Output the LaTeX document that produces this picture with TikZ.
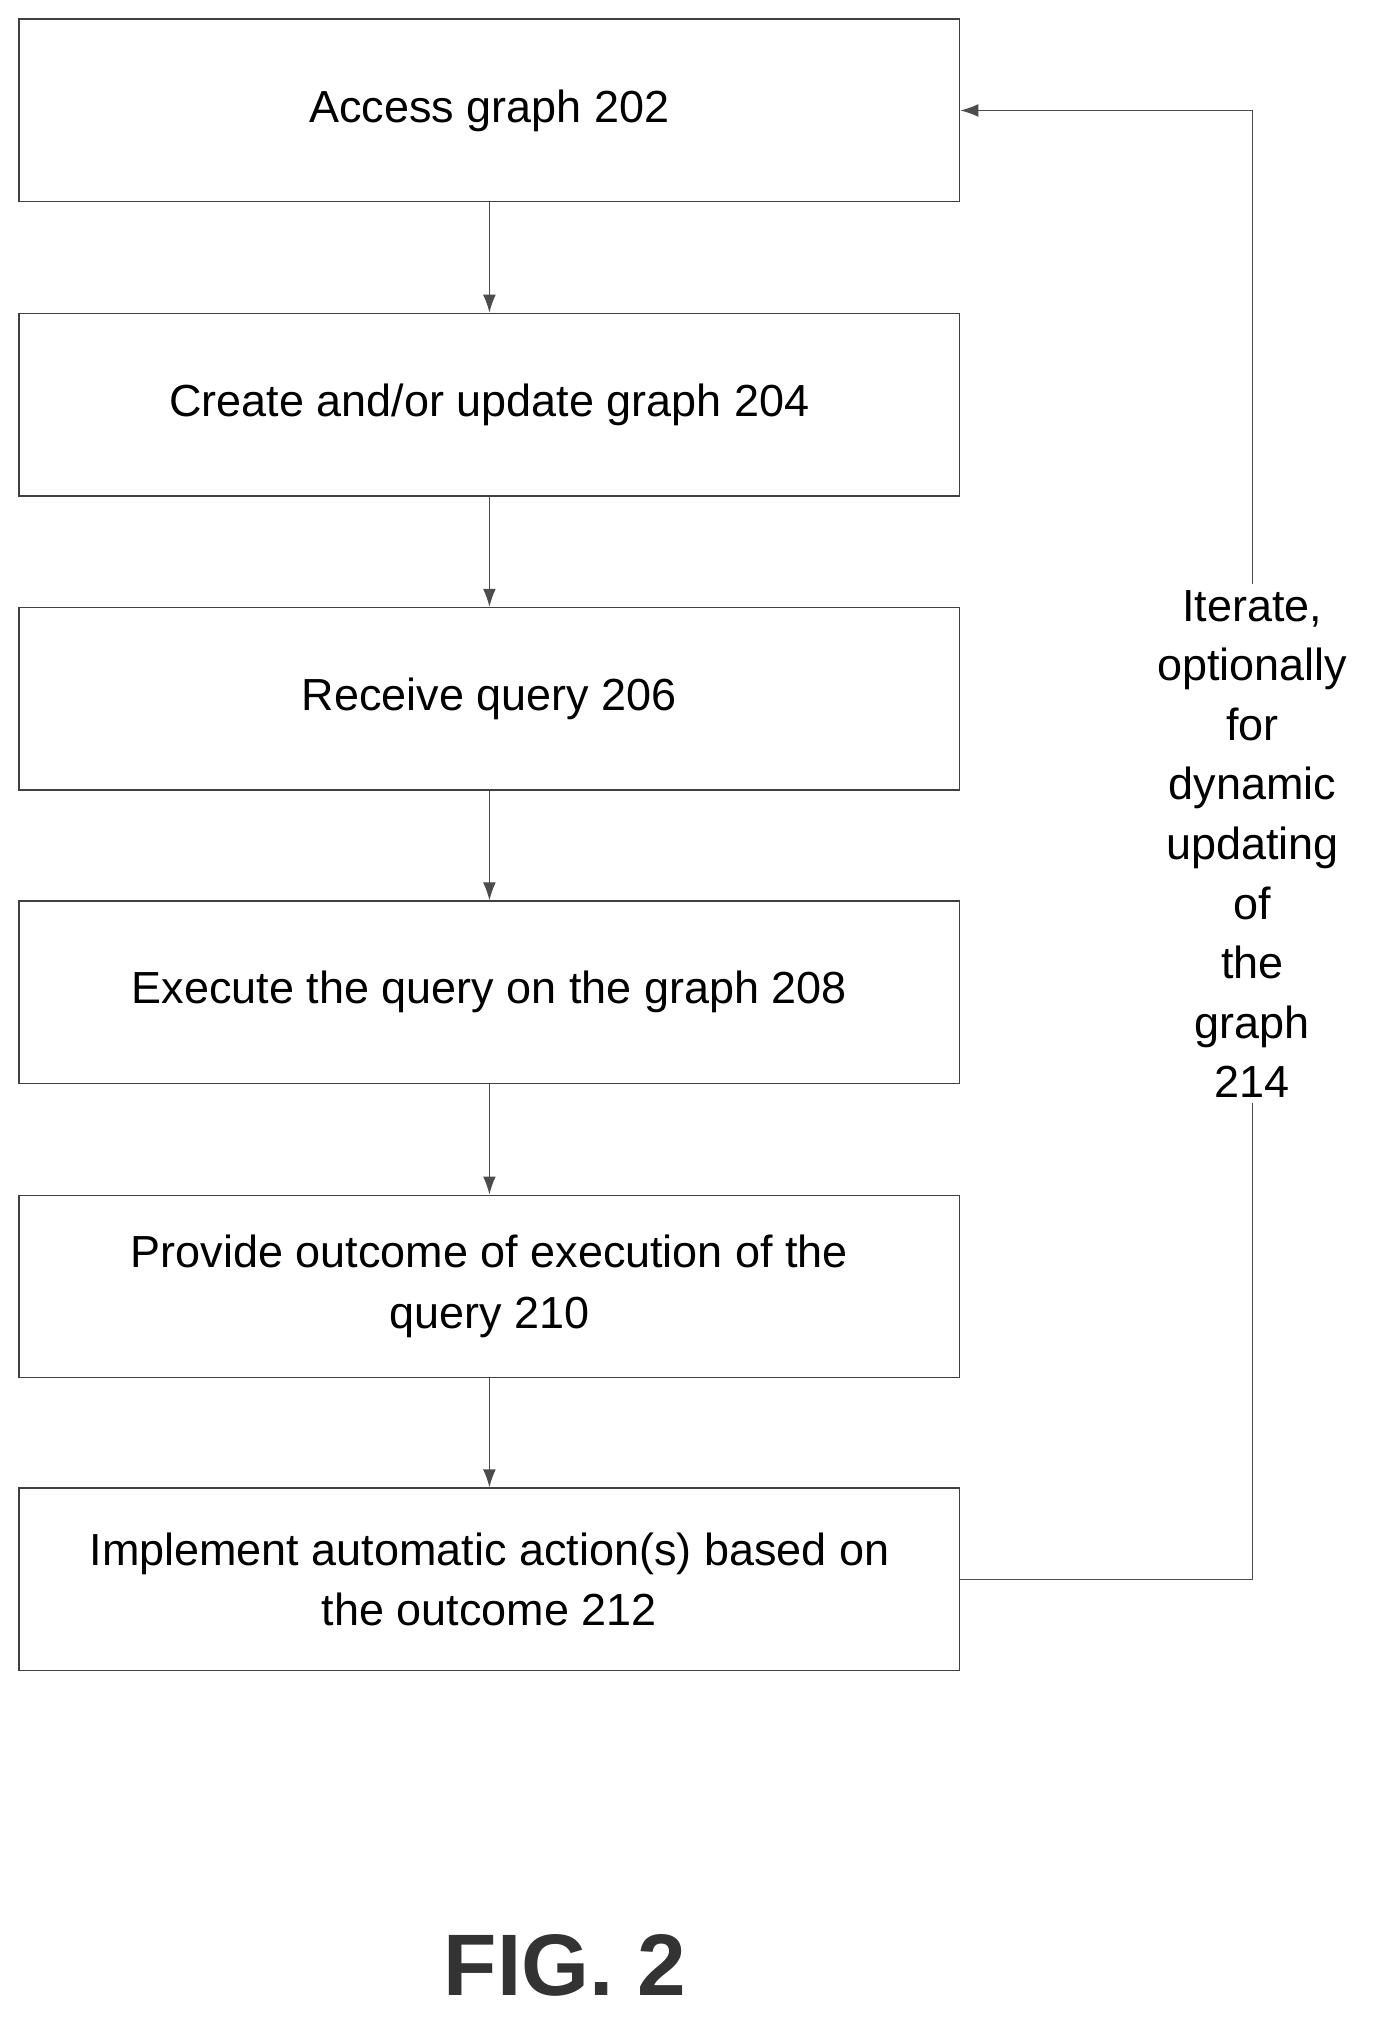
\documentclass[tikz,border=0pt]{standalone}
\usepackage{fontspec}
\setmainfont{Liberation Sans}
\usetikzlibrary{arrows.meta}
\begin{document}
\begin{tikzpicture}[x=0.5pt,y=0.5pt,
  box/.style={draw=black!75,line width=0.6pt,minimum width=366pt,minimum height=71pt,align=center,font=\fontsize{17.5}{23.5}\selectfont,inner sep=0pt},
  arr/.style={draw=black!70,line width=0.5pt,-{Latex[length=7pt,width=5pt]}}]
\useasboundingbox (0,0) rectangle (1080,-1578);
\node[box] (b1) at (381,-86) {Access graph 202};
\node[box] (b2) at (381,-315) {Create and/or update graph 204};
\node[box] (b3) at (381,-544) {Receive query 206};
\node[box] (b4) at (381,-772.5) {Execute the query on the graph 208};
\node[box] (b5) at (381,-1001.5) {Provide outcome of execution of the\\query 210};
\node[box] (b6) at (381,-1229.5) {Implement automatic action(s) based on\\the outcome 212};
\draw[arr] (b1) -- (b2);
\draw[arr] (b2) -- (b3);
\draw[arr] (b3) -- (b4);
\draw[arr] (b4) -- (b5);
\draw[arr] (b5) -- (b6);
\coordinate (c1) at (975,-1229.5);
\coordinate (c2) at (975,-86);
\node[align=center,fill=white,font=\fontsize{17.5}{23.2}\selectfont,inner sep=2pt] (lab) at (975,-657) {Iterate,\\optionally\\for\\dynamic\\updating\\of\\the\\graph\\214};
\draw[draw=black!70,line width=0.5pt] (b6.east) -- (c1) -- (lab.south);
\draw[arr] (lab.north) -- (c2) -- (b1.east);
\node[font=\fontsize{34}{40}\selectfont\bfseries,text=black!80] (fig) at (440,-1530) {FIG. 2};
\end{tikzpicture}
\end{document}
